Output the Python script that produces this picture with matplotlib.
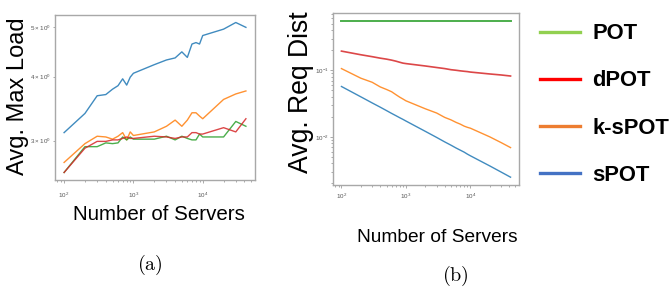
import numpy as np
import matplotlib
matplotlib.use("Agg")
import matplotlib.pyplot as plt
from matplotlib import font_manager
from matplotlib.lines import Line2D

# number of servers (same for both panels)
servers = [100, 200, 300, 400, 500, 600, 700, 800, 900, 1000,
           2000, 3000, 4000, 5000, 6000, 7000, 8000, 9000, 10000,
           20000, 30000, 42000]

# (a) average max load
load_spot = [3.11, 3.39, 3.67, 3.69, 3.78, 3.84, 3.96, 3.85, 3.99, 4.06,
             4.22, 4.31, 4.35, 4.47, 4.36, 4.63, 4.66, 4.63, 4.81,
             4.95, 5.10, 4.99]
load_kspot = [2.72, 2.96, 3.06, 3.05, 3.02, 3.06, 3.11, 3.01, 3.12, 3.07,
              3.12, 3.20, 3.29, 3.20, 3.29, 3.40, 3.40, 3.35, 3.31,
              3.61, 3.70, 3.75]
load_pot = [2.60, 2.92, 2.92, 2.97, 2.96, 2.97, 3.05, 3.01, 3.05, 3.02,
            3.02, 3.06, 3.01, 3.06, 3.03, 3.01, 3.01, 3.09, 3.05,
            3.05, 3.27, 3.20]
load_dpot = [2.60, 2.90, 2.99, 2.99, 3.01, 3.01, 3.03, 3.05, 3.03, 3.03,
             3.06, 3.05, 3.03, 3.05, 3.05, 3.11, 3.11, 3.09, 3.09,
             3.18, 3.12, 3.31]

# (b) average request distance
dist_spot = [0.0571, 0.0399, 0.0323, 0.0279, 0.0248, 0.0225, 0.0208, 0.0194, 0.0183, 0.0173,
             0.0121, 0.0098, 0.0084, 0.0075, 0.0068, 0.0063, 0.0059, 0.0055, 0.0052,
             0.00366, 0.00296, 0.00248]
dist_kspot = [0.106, 0.076, 0.066, 0.0562, 0.0515, 0.0476, 0.043, 0.0395, 0.037, 0.0348,
              0.0264, 0.0228, 0.0196, 0.0180, 0.0165, 0.0155, 0.0145, 0.0139, 0.0135,
              0.0100, 0.0082, 0.0069]
dist_pot = [0.553] * len(servers)
dist_dpot = [0.194, 0.171, 0.160, 0.152, 0.147, 0.142, 0.137, 0.132, 0.128, 0.126,
             0.116, 0.110, 0.106, 0.102, 0.100, 0.098, 0.0966, 0.0955, 0.094,
             0.088, 0.085, 0.082]

legend_labels = ["POT", "dPOT", "k-sPOT", "sPOT"]
legend_colors = ["#92d050", "#ff0000", "#ed7d31", "#4472c4"]

plt.rcParams["font.family"] = "Liberation Sans"
plt.rcParams["mathtext.fontset"] = "dejavusans"

fig = plt.figure(figsize=(6.7, 2.95), dpi=100)
ax_a = fig.add_axes([55 / 670, 1 - 180 / 295, 200 / 670, 165 / 295])
ax_b = fig.add_axes([333 / 670, 1 - 185 / 295, 186 / 670, 172 / 295])

lw = 1.0
ax_a.plot(servers, load_spot, color="tab:blue", lw=lw, alpha=0.85)
ax_a.plot(servers, load_kspot, color="tab:orange", lw=lw, alpha=0.85)
ax_a.plot(servers, load_pot, color="tab:green", lw=lw, alpha=0.85)
ax_a.plot(servers, load_dpot, color="tab:red", lw=lw, alpha=0.85)

ax_b.plot(servers, dist_spot, color="tab:blue", lw=lw, alpha=0.85)
ax_b.plot(servers, dist_kspot, color="tab:orange", lw=lw, alpha=0.85)
ax_b.plot(servers, dist_pot, color="tab:green", lw=1.4, alpha=0.85)
ax_b.plot(servers, dist_dpot, color="tab:red", lw=1.2, alpha=0.85)

for ax, xpad, ypad in [(ax_a, 5.5, 2.0), (ax_b, 3.0, 1.0)]:
    ax.set_xscale("log")
    ax.set_yscale("log")
    for s in ax.spines.values():
        s.set_color("#a8a8a8")
        s.set_linewidth(1.0)
    ax.tick_params(which="both", labelsize=4.5, labelcolor="#555555", color="#888888",
                   width=0.5)
    ax.tick_params(which="major", length=2)
    ax.tick_params(which="minor", length=1.2)
    ax.tick_params(axis="x", which="both", pad=xpad)
    ax.tick_params(axis="y", which="both", pad=ypad)

# axis labels
fig.text(18 / 670, 1 - 96 / 295, "Avg. Max Load", rotation=90, ha="center", va="center",
         fontsize=17)
fig.text(301 / 670, 1 - 92.5 / 295, "Avg. Req Dist", rotation=90, ha="center", va="center",
         fontsize=19.2)
fig.text(159 / 670, 1 - 220 / 295, "Number of Servers", ha="center", va="baseline",
         fontsize=14.8)
fig.text(437.5 / 670, 1 - 242 / 295, "Number of Servers", ha="center", va="baseline",
         fontsize=13.8)

# sub captions
fig.text(150 / 670, 1 - 265 / 295, r"$\mathrm{(a)}$", ha="center", va="center",
         fontsize=14.4, math_fontfamily="cm")
fig.text(455.8 / 670, 1 - 276 / 295, r"$\mathrm{(b)}$", ha="center", va="center",
         fontsize=14.4, math_fontfamily="cm")

# legend (separate, on the right)
names = {f.name for f in font_manager.fontManager.ttflist}
if "Liberation Sans Narrow" in names:
    leg_family, leg_px = "Liberation Sans Narrow", 26.8
else:
    leg_family, leg_px = "Liberation Sans", 22.0
leg_fs = leg_px * 72 / 100
handles = [Line2D([], [], color=c, lw=2.4) for c in legend_colors]
fig.legend(handles, legend_labels, loc="center left",
           bbox_to_anchor=(540 / 670, 1 - 104.5 / 295), frameon=False,
           borderpad=0, borderaxespad=0,
           handlelength=40 / leg_px, handletextpad=12 / leg_px,
           labelspacing=(47.4 - 1.17 * leg_px) / leg_px + 0.2,
           prop={"family": leg_family, "weight": "bold", "size": leg_fs})

fig.savefig("out.png", dpi=100)
